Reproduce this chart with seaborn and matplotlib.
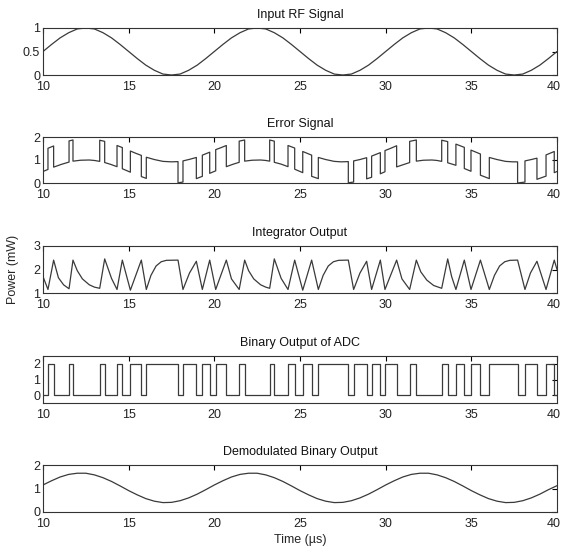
import numpy as np
import pandas as pd
import matplotlib
matplotlib.use("Agg")
import matplotlib.pyplot as plt
import matplotlib.transforms as mtransforms
import seaborn as sns

# ---- data ----
rf_t = [10 + 0.5 * i for i in range(61)]
rf_v = [0.50, 0.65, 0.79, 0.90, 0.98, 1.00, 0.98, 0.90, 0.79, 0.65,
        0.50, 0.35, 0.21, 0.10, 0.02, 0.00, 0.02, 0.10, 0.21, 0.35,
        0.50, 0.65, 0.79, 0.90, 0.98, 1.00, 0.98, 0.90, 0.79, 0.65,
        0.50, 0.35, 0.21, 0.10, 0.02, 0.00, 0.02, 0.10, 0.21, 0.35,
        0.50, 0.65, 0.79, 0.90, 0.98, 1.00, 0.98, 0.90, 0.79, 0.65,
        0.50, 0.35, 0.21, 0.10, 0.02, 0.00, 0.02, 0.10, 0.21, 0.35,
        0.50]

err_t = [10.00, 10.29, 10.29, 10.62, 10.62, 11.07, 11.52, 11.52, 11.75, 11.75,
         12.20, 12.70, 13.00, 13.31, 13.31, 13.60, 13.60, 13.95, 14.32, 14.32,
         14.63, 14.63, 15.10, 15.10, 15.42, 15.74, 15.74, 16.03, 16.03, 16.50,
         17.00, 17.50, 17.88, 17.88, 18.17, 18.17, 18.56, 18.95, 18.95, 19.30,
         19.30, 19.73, 19.73, 20.08, 20.08, 20.40, 20.70, 20.70, 21.07, 21.45,
         21.45, 21.77, 21.77, 22.20, 22.70, 23.00, 23.23, 23.23, 23.50, 23.50,
         23.90, 24.30, 24.30, 24.69, 24.69, 25.16, 25.16, 25.42, 25.68, 25.68,
         26.07, 26.07, 26.50, 27.00, 27.40, 27.82, 27.82, 28.13, 28.13, 28.50,
         28.89, 28.89, 29.18, 29.18, 29.69, 29.69, 29.96, 29.96, 30.30, 30.64,
         30.64, 31.00, 31.40, 31.40, 31.79, 31.79, 32.20, 32.70, 33.00, 33.27,
         33.27, 33.62, 33.62, 34.10, 34.10, 34.59, 34.59, 34.98, 34.98, 35.53,
         35.53, 36.05, 36.05, 36.50, 37.00, 37.40, 37.70, 37.70, 38.13, 38.13,
         38.50, 38.83, 38.83, 39.36, 39.36, 39.84, 39.84, 40.00]
err_v = [0.50, 0.59, 1.51, 1.61, 0.69, 0.81, 0.91, 1.83, 1.87, 0.95,
         0.99, 1.00, 0.98, 0.94, 1.86, 1.81, 0.89, 0.81, 0.71, 1.63,
         1.54, 0.62, 0.47, 1.39, 1.29, 1.20, 0.28, 0.20, 1.12, 1.02,
         0.94, 0.92, 0.93, 0.01, 0.04, 0.96, 1.03, 1.11, 0.19, 0.29,
         1.21, 1.34, 0.42, 0.53, 1.45, 1.54, 1.63, 0.71, 0.81, 0.90,
         1.82, 1.87, 0.95, 0.99, 1.00, 0.98, 0.95, 1.87, 1.82, 0.90,
         0.82, 0.71, 1.63, 1.52, 0.60, 0.45, 1.37, 1.29, 1.21, 0.29,
         0.19, 1.11, 1.02, 0.94, 0.92, 0.93, 0.01, 0.04, 0.96, 1.02,
         1.10, 0.18, 0.25, 1.17, 1.32, 0.40, 0.49, 1.41, 1.51, 1.62,
         0.70, 0.79, 0.89, 1.81, 1.87, 0.95, 0.99, 1.00, 0.98, 0.94,
         1.86, 1.80, 0.88, 0.77, 1.69, 1.55, 0.63, 0.51, 1.43, 1.26,
         0.34, 0.19, 1.11, 1.02, 0.94, 0.92, 0.92, 0.00, 0.04, 0.96,
         1.02, 1.08, 0.16, 0.30, 1.22, 1.37, 0.45, 0.50]

int_t = [10.00, 10.29, 10.62, 10.90, 11.20, 11.52, 11.75, 12.00, 12.30, 12.70,
         13.00, 13.31, 13.60, 14.00, 14.32, 14.63, 15.10, 15.74, 16.03, 16.30,
         16.60, 16.90, 17.20, 17.88, 18.17, 18.55, 18.95, 19.30, 19.73, 20.08,
         20.70, 21.00, 21.45, 21.77, 22.00, 22.30, 22.70, 23.00, 23.23, 23.50,
         23.90, 24.30, 24.69, 25.16, 25.68, 26.07, 26.35, 26.65, 26.95, 27.25,
         27.82, 28.13, 28.50, 28.89, 29.18, 29.69, 29.96, 30.64, 30.95, 31.40,
         31.79, 32.05, 32.40, 32.80, 33.27, 33.62, 33.85, 34.10, 34.59, 34.98,
         35.53, 36.05, 36.35, 36.65, 36.95, 37.25, 37.70, 38.13, 38.45, 38.83,
         39.36, 39.84, 40.00]
int_v = [1.70, 1.15, 2.40, 1.65, 1.35, 1.18, 2.40, 1.95, 1.60, 1.35,
         1.25, 1.20, 2.45, 1.62, 1.15, 2.40, 1.12, 2.40, 1.15, 1.75,
         2.15, 2.33, 2.39, 2.40, 1.15, 1.85, 2.35, 1.15, 2.40, 1.15,
         2.40, 1.60, 1.15, 2.40, 1.95, 1.60, 1.35, 1.25, 1.20, 2.45,
         1.62, 1.15, 2.40, 1.12, 2.40, 1.15, 1.75, 2.15, 2.33, 2.39,
         2.40, 1.15, 1.85, 2.35, 1.15, 2.40, 1.15, 2.40, 1.60, 1.15,
         2.40, 1.90, 1.55, 1.32, 1.20, 2.45, 1.70, 1.15, 2.40, 1.15,
         2.40, 1.15, 1.75, 2.15, 2.33, 2.39, 2.40, 1.15, 1.85, 2.35,
         1.15, 2.40, 2.00]

bit_t = [10.00, 10.29, 10.62, 11.52, 11.75, 13.31, 13.60, 14.32, 14.63, 15.10,
         15.74, 16.03, 17.88, 18.17, 18.95, 19.30, 19.73, 20.08, 20.70, 21.45,
         21.77, 23.23, 23.50, 24.30, 24.69, 25.16, 25.68, 26.07, 27.82, 28.13,
         28.89, 29.18, 29.69, 29.96, 30.64, 31.40, 31.79, 33.27, 33.62, 34.10,
         34.59, 34.98, 35.53, 36.05, 37.70, 38.13, 38.83, 39.36, 39.84, 40.00]
bit_v = [0, 2, 0, 2, 0, 2, 0, 2, 0, 2,
         0, 2, 0, 2, 0, 2, 0, 2, 0, 2,
         0, 2, 0, 2, 0, 2, 0, 2, 0, 2,
         0, 2, 0, 2, 0, 2, 0, 2, 0, 2,
         0, 2, 0, 2, 0, 2, 0, 2, 0, 0]

dem_t = [10 + 0.5 * i for i in range(61)]
dem_v = [1.15, 1.33, 1.49, 1.60, 1.65, 1.65, 1.58, 1.46, 1.30, 1.11,
         0.91, 0.73, 0.57, 0.46, 0.40, 0.41, 0.48, 0.60, 0.76, 0.95,
         1.15, 1.33, 1.49, 1.60, 1.65, 1.65, 1.58, 1.46, 1.30, 1.11,
         0.91, 0.73, 0.57, 0.46, 0.40, 0.41, 0.48, 0.60, 0.76, 0.95,
         1.15, 1.33, 1.49, 1.60, 1.65, 1.65, 1.58, 1.46, 1.30, 1.11,
         0.91, 0.73, 0.57, 0.46, 0.40, 0.41, 0.48, 0.60, 0.76, 0.95,
         1.12]

titles = ["Input RF Signal", "Error Signal", "Integrator Output",
          "Binary Output of ADC", "Demodulated Binary Output"]
xticks = [10, 15, 20, 25, 30, 35, 40]
yticks = [[0, 0.5, 1], [0, 1, 2], [1, 2, 3], [0, 1, 2], [0, 1, 2]]
yticklabels = [["0", "0.5", "1"], ["0", "1", "2"], ["1", "2", "3"],
               ["0", "1", "2"], ["0", "1", "2"]]
ylims = [(0, 1), (0, 2), (1, 3), (-0.5, 2.5), (0, 2)]

sns.set_style("white")
plt.rcParams['font.family'] = ['Liberation Sans', 'DejaVu Sans']
plt.rcParams['font.size'] = 9

fig = plt.figure(figsize=(5.62, 5.52), dpi=100, facecolor='white')

# axes boxes in pixels (left, top, right, bottom) measured on the reference
boxes = [(43, 28, 557, 75), (43, 137, 557, 183), (43, 246, 557, 293),
         (43, 356, 557, 403), (43, 465, 557, 512)]
W, H = 562, 552

series = [
    (rf_t, rf_v, None),
    (err_t, err_v, None),
    (int_t, int_v, None),
    (bit_t, bit_v, 'steps-post'),
    (dem_t, dem_v, None),
]

line_col = '#3a3a3a'
fs = 9
nudge = mtransforms.ScaledTranslation(-3 / 100, 0, fig.dpi_scale_trans)
for i, (l, t, r, b) in enumerate(boxes):
    ax = fig.add_axes([l / W, 1 - b / H, (r - l) / W, (b - t) / H])
    xs, ys, ds = series[i]
    kw = dict(drawstyle=ds) if ds else {}
    sns.lineplot(x=xs, y=ys, ax=ax, color=line_col, linewidth=0.9,
                 estimator=None, sort=False, **kw)
    ax.set_xlim(10, 40)
    ax.set_ylim(*ylims[i])
    ax.set_xticks(xticks)
    ax.set_xticklabels([str(x) for x in xticks], fontsize=fs)
    ax.set_yticks(yticks[i])
    ax.set_yticklabels(yticklabels[i], fontsize=fs)
    ax.tick_params(direction='in', top=True, right=True, length=3.5,
                   width=0.8, color='black', labelcolor='#222222')
    ax.tick_params(axis='x', pad=4.5)
    ax.tick_params(axis='y', pad=2)
    # the last label sits at the figure edge; keep it inside
    last = ax.get_xticklabels()[-1]
    last.set_transform(last.get_transform() + nudge)
    for s in ax.spines.values():
        s.set_visible(True)
        s.set_color('#333333')
        s.set_linewidth(0.8)
    ax.set_title(titles[i], fontsize=fs, pad=7, color='#111111')
    ax.set_xlabel('')
    ax.set_ylabel('')
    if i == 2:
        ax.set_ylabel('Power (mW)', fontsize=fs, labelpad=10)
    if i == 4:
        ax.set_xlabel('Time (\u00b5s)', fontsize=fs, labelpad=3)

fig.savefig('out.png', dpi=100, facecolor='white')
